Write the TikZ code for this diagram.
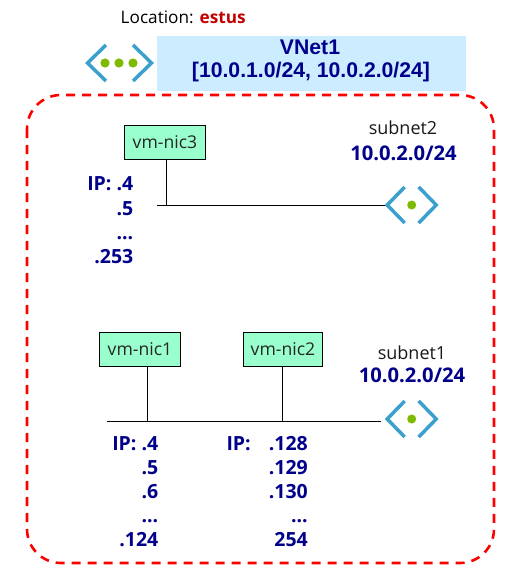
\documentclass[tikz,border=0pt]{standalone}
\usepackage{fontspec}
\setmainfont{Open Sans}
\newfontfamily\arialfont{Liberation Sans}
\definecolor{navytxt}{RGB}{0,0,139}
\definecolor{iconblue}{RGB}{59,160,205}
\definecolor{icongreen}{RGB}{127,186,0}
\definecolor{nicfill}{RGB}{153,255,204}
\definecolor{vnetfill}{RGB}{204,236,255}
\definecolor{estus}{RGB}{192,0,0}
\tikzset{
  x=1pt,y=-1pt,
  nicbox/.style={draw=black,line width=0.9pt,fill=nicfill,minimum height=34pt,inner sep=0pt,font=\fontsize{17.6}{20}\selectfont,text=black!85},
  wire/.style={draw=black,line width=0.9pt},
  chev/.style={draw=iconblue,line width=3.5pt,line join=miter,line cap=butt},
  ip/.style={font=\fontsize{19.5}{22}\selectfont\bfseries,text=navytxt,inner sep=0pt},
  ipr/.style={ip,anchor=base east},
  sub/.style={font=\fontsize{18}{20}\selectfont,text=black!90,inner sep=0pt,anchor=base},
  subip/.style={font=\fontsize{20.2}{22}\selectfont\bfseries,text=navytxt,inner sep=0pt,anchor=base},
  vnettext/.style={font=\arialfont\fontsize{21.2}{24}\selectfont\bfseries,text=navytxt,inner sep=0pt,anchor=base},
}
\newcommand{\subneticon}[2]{%
  \draw[chev] (#1-7,#2-18) -- (#1-24.5,#2) -- (#1-7,#2+18);
  \draw[chev] (#1+7,#2-18) -- (#1+24.5,#2) -- (#1+7,#2+18);
  \fill[icongreen] (#1,#2) circle (4.5);
}
\begin{document}
\begin{tikzpicture}
\useasboundingbox (0,0) rectangle (504,575);
\fill[white] (0,0) rectangle (504,575);
% location
\node[anchor=base west,inner sep=0pt,font=\fontsize{17.2}{20}\selectfont] (loc) at (120.5,24) {Location: \textcolor{estus}{\bfseries estus}};
% vnet
\node[fill=vnetfill,minimum width=309pt,minimum height=55pt,inner sep=0pt] (vnet) at (311.5,63.5) {};
\node[vnettext] (vnetname) at (310,55) {VNet1};
\node[vnettext] (vnetaddr) at (311,78) {[10.0.1.0/24, 10.0.2.0/24]};
\draw[chev] (106,45) -- (87.5,63) -- (106,81);
\draw[chev] (133,45) -- (151.5,63) -- (133,81);
\fill[icongreen] (105,63) circle (4.6) (119,63) circle (4.6) (133,63) circle (4.6);
% boundary
\draw[red,line width=2.6pt,dash pattern=on 9pt off 7pt,rounded corners=34pt] (27,95) rectangle (494,563);
% subnet 2
\node[nicbox,minimum width=81pt] (nic3) at (165,142) {vm-nic3};
\coordinate (bus2l) at (157,205);
\coordinate (bus2r) at (386,205);
\draw[wire] (bus2l) -- (bus2r);
\draw[wire] (166.5,159) -- (166.5,205);
\subneticon{411.7}{205}
\node[sub] (s2) at (403,135) {subnet2};
\node[subip] (s2ip) at (403.5,160) {10.0.2.0/24};
\node[ipr] (a1) at (133.5,190) {IP: .4};
\node[ipr] (a2) at (133.5,215) {.5};
\node[ipr] (a3) at (133.5,239) {...};
\node[ipr] (a4) at (133.5,263) {.253};
% subnet 1
\node[nicbox,minimum width=81pt] (nic1) at (140,349.3) {vm-nic1};
\node[nicbox,minimum width=79pt] (nic2) at (283,349.3) {vm-nic2};
\coordinate (bus1l) at (107,421);
\coordinate (bus1r) at (381,421);
\draw[wire] (bus1l) -- (bus1r);
\draw[wire] (147.3,366) -- (147.3,421);
\draw[wire] (282.3,366) -- (282.3,421);
\subneticon{411.7}{419}
\node[sub] (s1) at (412,359) {subnet1};
\node[subip] (s1ip) at (412,382.7) {10.0.2.0/24};
\node[ipr] (b1) at (158.5,450) {IP: .4};
\node[ipr] (b2) at (158.5,474) {.5};
\node[ipr] (b3) at (158.5,498) {.6};
\node[ipr] (b4) at (158.5,522.7) {...};
\node[ipr] (b5) at (158.5,546.7) {.124};
\node[ip,anchor=base east] (c0) at (251,450) {IP:};
\node[ipr] (c1) at (308,450) {.128};
\node[ipr] (c2) at (308,474) {.129};
\node[ipr] (c3) at (308,498) {.130};
\node[ipr] (c4) at (308,522.7) {...};
\node[ipr] (c5) at (308,546.7) {254};
\end{tikzpicture}
\end{document}
